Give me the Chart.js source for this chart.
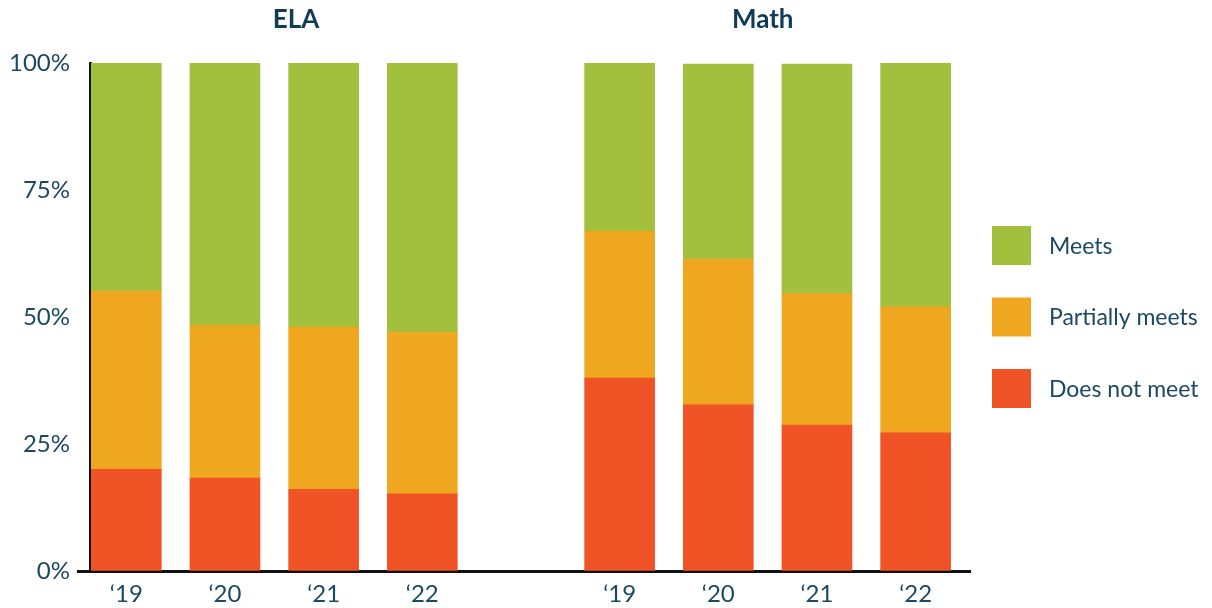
<!DOCTYPE html>
<html>
<head>
<meta charset="utf-8">
<script src="https://cdn.jsdelivr.net/npm/chart.js@4"></script>
<style>
  html, body { margin: 0; padding: 0; background: #fff; }
  #wrap { width: 1212px; height: 608px; }
</style>
</head>
<body>
<div id="wrap"><canvas id="myChart"></canvas></div>
<script>
const subjects = ["ELA", "Math"];
const years = ["‘19", "‘20", "‘21", "‘22"];

// % of students per year, ELA first then Math (bottom -> top of each stack)
const doesNotMeet = [20.0, 18.3, 16.1, 15.2, 38.0, 32.7, 28.7, 27.2];
const partiallyMeets = [35.1, 30.1, 31.9, 31.8, 28.9, 28.7, 25.9, 24.8];
const meets = [44.9, 51.6, 52.0, 53.0, 33.1, 38.4, 45.2, 48.0];

const yTicks = [0, 25, 50, 75, 100];

const textColor = "#1b4862";
const titleColor = "#0f3c57";
const fontFamily = "Lato, 'Open Sans', sans-serif";

// one slot per year, plus an empty slot between the two subjects
const slots = [];
const slotLabels = {};
subjects.forEach((s, si) => {
  years.forEach((yr, yi) => {
    const slot = si * (years.length + 1) + yi;
    slots.push(slot);
    slotLabels[slot] = yr;
  });
});

function toPoints(values) {
  return values.map((v, i) => ({ x: slots[i], y: v }));
}

const data = {
  datasets: [
    { label: "Does not meet", backgroundColor: "#ef5326", data: toPoints(doesNotMeet) },
    { label: "Partially meets", backgroundColor: "#f0a720", data: toPoints(partiallyMeets) },
    { label: "Meets", backgroundColor: "#a2bf3d", data: toPoints(meets) },
  ],
};

// subject headings over each group
const subjectTitles = {
  id: "subjectTitles",
  afterDraw(chart) {
    const ctx = chart.ctx;
    const xs = chart.scales.x;
    const anchors = [1.72, 6.45];
    ctx.save();
    ctx.fillStyle = titleColor;
    ctx.font = "bold 26px " + fontFamily;
    ctx.textAlign = "center";
    ctx.textBaseline = "middle";
    subjects.forEach((s, i) => {
      ctx.fillText(s, xs.getPixelForValue(anchors[i]), 20);
    });
    ctx.restore();
  },
};

// legend on the right, top item = top of stack
const sideLegend = {
  id: "sideLegend",
  afterDraw(chart) {
    const { ctx, chartArea } = chart;
    const items = chart.data.datasets.slice().reverse();
    const box = 39;
    const step = 71.5;
    const x = chartArea.right + 22;
    const mid = (chartArea.top + chartArea.bottom) / 2;
    let y = mid - ((items.length - 1) * step + box) / 2;
    ctx.save();
    ctx.font = "23px " + fontFamily;
    ctx.textBaseline = "middle";
    items.forEach((ds) => {
      ctx.fillStyle = ds.backgroundColor;
      ctx.fillRect(x, y, box, box);
      ctx.fillStyle = textColor;
      ctx.fillText(ds.label, x + box + 18, y + box / 2 + 1);
      y += step;
    });
    ctx.restore();
  },
};

const config = {
  type: "bar",
  data: data,
  options: {
    responsive: true,
    maintainAspectRatio: false,
    animation: false,
    layout: { padding: { top: 63, right: 242, bottom: 0, left: 10 } },
    datasets: { bar: { barThickness: 70, borderWidth: 0 } },
    plugins: {
      legend: { display: false },
      tooltip: { enabled: false },
    },
    scales: {
      x: {
        type: "linear",
        min: -0.368,
        max: 8.551,
        offset: false,
        stacked: true,
        grid: { display: false, drawTicks: false },
        border: { color: "#111", width: 3 },
        afterBuildTicks: (scale) => {
          scale.ticks = slots.map((v) => ({ value: v }));
        },
        afterFit: (scale) => {
          scale.height = 37;
        },
        ticks: {
          autoSkip: false,
          maxRotation: 0,
          padding: 9,
          color: textColor,
          font: { family: fontFamily, size: 24 },
          callback: (v) => slotLabels[v] || "",
        },
      },
      y: {
        stacked: true,
        min: 0,
        max: 100,
        afterBuildTicks: (scale) => {
          scale.ticks = yTicks.map((v) => ({ value: v }));
        },
        afterFit: (scale) => {
          scale.width = 80;
        },
        grid: {
          drawOnChartArea: false,
          drawTicks: true,
          tickLength: 13,
          tickWidth: 3,
          tickColor: (c) => (c.tick && c.tick.value === 0 ? "#111" : "rgba(0,0,0,0)"),
        },
        border: { color: "#111", width: 3 },
        ticks: {
          padding: 7,
          color: textColor,
          font: { family: fontFamily, size: 24 },
          callback: (v) => v + "%",
        },
      },
    },
  },
  plugins: [subjectTitles, sideLegend],
};

var myChart = new Chart(document.getElementById("myChart"), config);
</script>
</body>
</html>
